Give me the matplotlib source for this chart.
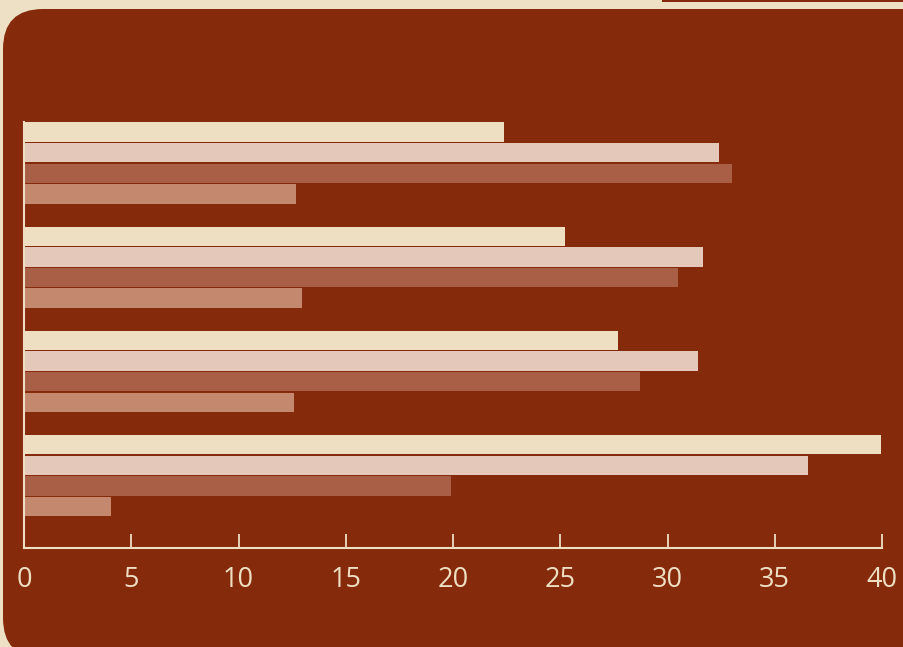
import numpy as np
import matplotlib.pyplot as plt
from matplotlib.patches import FancyBboxPatch, Rectangle
from matplotlib.transforms import IdentityTransform

# data, groups top to bottom
groups = ['G1', 'G2', 'G3', 'G4']
series_a = [22.4, 25.2, 27.7, 39.95]   # beige
series_b = [32.4, 31.65, 31.4, 36.55]  # light pink
series_c = [33.0, 30.5, 28.7, 19.9]    # brown
series_d = [12.7, 12.95, 12.6, 4.05]   # light brown
xticks = [0, 5, 10, 15, 20, 25, 30, 35, 40]

bg = '#EEE0C4'
panel = '#862A0C'
fg = '#EEDFC3'
colors = ['#EEDFC3', '#E4C8BA', '#A95F45', '#C4886F']

W, H = 904, 647
fig = plt.figure(figsize=(W / 100, H / 100), dpi=100)
fig.patch.set_facecolor(bg)

# rounded panel behind the chart (pixel coords, origin bottom-left)
fig.patches.append(FancyBboxPatch((3, -11), 960, 649,
                                  boxstyle='round,pad=0,rounding_size=40',
                                  facecolor=panel, edgecolor='none', zorder=-5,
                                  transform=IdentityTransform(), figure=fig))
fig.patches.append(Rectangle((662, H - 1.5), 260, 3, facecolor=panel, zorder=-5,
                             edgecolor='none', transform=IdentityTransform(), figure=fig))

ax = fig.add_axes([24 / W, (H - 548) / H, (882 - 24) / W, (548 - 122) / H])
ax.set_facecolor('none')

y = np.arange(len(groups))
step = 0.198
h = 0.186
for i, (vals, c) in enumerate(zip([series_a, series_b, series_c, series_d], colors)):
    ax.barh(y - 1.5 * step + i * step, vals, height=h, color=c, edgecolor='none')

ax.set_xlim(0, 40)
ax.set_ylim(3.695, -0.393)
ax.set_xticks(xticks)
ax.set_yticks([])
for s in ['top', 'right']:
    ax.spines[s].set_visible(False)
for s in ['left', 'bottom']:
    ax.spines[s].set_color(fg)
    ax.spines[s].set_linewidth(1.5)
ax.tick_params(axis='x', direction='in', length=10, width=1.3, color=fg,
               labelcolor=fg, labelsize=19.5, pad=13)
for lab in ax.get_xticklabels():
    lab.set_fontfamily('Open Sans')

fig.savefig('out.png', dpi=100, facecolor=bg)
